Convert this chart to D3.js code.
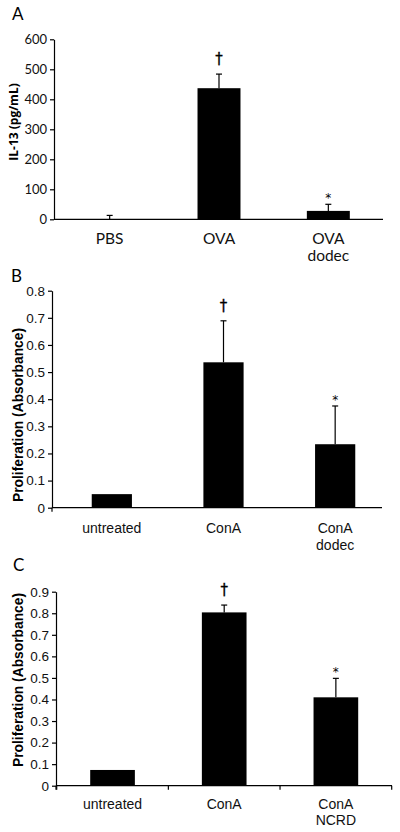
<!DOCTYPE html>
<html>
<head>
<meta charset="utf-8">
<script src="https://cdn.jsdelivr.net/npm/d3@7"></script>
<style>
  html, body { margin: 0; padding: 0; background: #fff; }
  svg { display: block; }
</style>
</head>
<body>
<svg id="chart" width="400" height="832"></svg>
<script>
// ---------- DATA ----------
const categoriesA = [["PBS"], ["OVA"], ["OVA", "dodec"]];
const valuesA = [1, 437, 28];
const errorsA = [12, 47, 22];
const marksA = ["", "†", "*"];
const ticksA = [0, 100, 200, 300, 400, 500, 600];
const yLabelA = "IL-13 (pg/mL)";

const categoriesB = [["untreated"], ["ConA"], ["ConA", "dodec"]];
const valuesB = [0.05, 0.536, 0.234];
const errorsB = [0, 0.153, 0.141];
const marksB = ["", "†", "*"];
const ticksB = [0, 0.1, 0.2, 0.3, 0.4, 0.5, 0.6, 0.7, 0.8];
const yLabelB = "Proliferation (Absorbance)";

const categoriesC = [["untreated"], ["ConA"], ["ConA", "NCRD"]];
const valuesC = [0.073, 0.804, 0.41];
const errorsC = [0, 0.034, 0.088];
const marksC = ["", "†", "*"];
const ticksC = [0, 0.1, 0.2, 0.3, 0.4, 0.5, 0.6, 0.7, 0.8, 0.9];
const yLabelC = "Proliferation (Absorbance)";

const panelLetters = ["A", "B", "C"];

// ---------- LAYOUT ----------
const ARIAL = "'Liberation Sans', Arial, Helvetica, sans-serif";
const CAL = "Lato, 'Open Sans', sans-serif";
const panels = [
  { letter: panelLetters[0], cats: categoriesA, vals: valuesA, errs: errorsA, marks: marksA, ticks: ticksA, ylabel: yLabelA,
    font: CAL, ylabFamily: "'Open Sans', Lato, sans-serif", tickFont: 13, labFont: 15.5, ylabFont: 12,
    letterPos: [12, 20], axisX: 54, axisRight: 383, yTop: 39.3, yBottom: 219.3, band: [55, 383], pad: 0.607,
    xTicks: false, below: 0, ylabPos: [14, 122], lab1: 243.5, labGap: 17, fmt: d => d },
  { letter: panelLetters[1], cats: categoriesB, vals: valuesB, errs: errorsB, marks: marksB, ticks: ticksB, ylabel: yLabelB,
    font: ARIAL, ylabFamily: ARIAL, tickFont: 13.5, labFont: 14, ylabFont: 13.8,
    letterPos: [11, 282], axisX: 52, axisRight: 382, yTop: 290.7, yBottom: 507.7, band: [56, 391], pad: 0.64,
    xTicks: false, below: 4, ylabPos: [18, 415], lab1: 533, labGap: 17, fmt: d => String(+d.toFixed(1)) },
  { letter: panelLetters[2], cats: categoriesC, vals: valuesC, errs: errorsC, marks: marksC, ticks: ticksC, ylabel: yLabelC,
    font: ARIAL, ylabFamily: ARIAL, tickFont: 13.5, labFont: 14, ylabFont: 13.8,
    letterPos: [13, 571], axisX: 56, axisRight: 392, yTop: 591.7, yBottom: 785.7, band: [56.7, 391.7], pad: 0.6,
    xTicks: true, below: 4, ylabPos: [18, 680], lab1: 809, labGap: 16, fmt: d => String(+d.toFixed(1)) }
];

const svg = d3.select("#chart");

panels.forEach(p => {
  const g = svg.append("g");
  const keys = p.cats.map(c => c.join(" "));
  const x = d3.scaleBand().domain(keys).range(p.band).paddingInner(p.pad).paddingOuter(p.pad / 2);
  const y = d3.scaleLinear().domain([0, p.ticks[p.ticks.length - 1]]).range([p.yBottom, p.yTop]);

  // panel letter
  g.append("text").attr("x", p.letterPos[0]).attr("y", p.letterPos[1])
    .attr("font-family", CAL).attr("font-size", 17).attr("fill", "#000")
    .text(p.letter);

  // bars
  g.selectAll("rect.bar").data(p.vals).join("rect").attr("class", "bar")
    .attr("x", (d, i) => x(keys[i]))
    .attr("width", x.bandwidth())
    .attr("y", d => y(d))
    .attr("height", d => y(0) - y(d))
    .attr("fill", "#000");

  // error bars (upper only)
  const capW = 6;
  p.vals.forEach((v, i) => {
    const e = p.errs[i];
    if (!e) return;
    const cx = x(keys[i]) + x.bandwidth() / 2;
    g.append("line").attr("x1", cx).attr("x2", cx).attr("y1", y(v)).attr("y2", y(v + e))
      .attr("stroke", "#000").attr("stroke-width", 1.2);
    g.append("line").attr("x1", cx - capW / 2).attr("x2", cx + capW / 2).attr("y1", y(v + e)).attr("y2", y(v + e))
      .attr("stroke", "#000").attr("stroke-width", 1.2);
  });

  // significance marks
  p.marks.forEach((m, i) => {
    if (!m) return;
    const cx = x(keys[i]) + x.bandwidth() / 2;
    const top = y(p.vals[i] + p.errs[i]);
    const isDagger = m === "†";
    g.append("text").attr("x", cx).attr("y", isDagger ? top - 10 : top - 2)
      .attr("text-anchor", "middle")
      .attr("font-family", "'DejaVu Sans', sans-serif")
      .attr("font-size", isDagger ? 15 : 12)
      .attr("fill", "#000").attr("stroke", "#000").attr("stroke-width", isDagger ? 0.3 : 0)
      .text(m);
  });

  // y axis
  const yAxis = d3.axisLeft(y).tickValues(p.ticks).tickFormat(p.fmt).tickSize(4).tickSizeOuter(0).tickPadding(3);
  const ya = g.append("g").attr("transform", `translate(${p.axisX},0)`).call(yAxis);
  ya.selectAll("path, line").attr("stroke", "#000").attr("stroke-width", 1.2);
  ya.selectAll("text").attr("font-family", p.font).attr("font-size", p.tickFont).attr("fill", "#111");
  if (p.below) {
    g.append("line").attr("x1", p.axisX).attr("x2", p.axisX).attr("y1", y(0)).attr("y2", y(0) + p.below)
      .attr("stroke", "#000").attr("stroke-width", 1.2);
  }

  // x axis line
  g.append("line").attr("x1", p.axisX).attr("x2", p.axisRight).attr("y1", y(0)).attr("y2", y(0))
    .attr("stroke", "#000").attr("stroke-width", 1.2);
  if (p.xTicks) {
    const half = x.step() * x.paddingInner() / 2;
    const bounds = keys.map(k => x(k) - half).concat([x(keys[keys.length - 1]) + x.bandwidth() + half]);
    g.selectAll("line.xt").data(bounds).join("line").attr("class", "xt")
      .attr("x1", d => d).attr("x2", d => d).attr("y1", y(0)).attr("y2", y(0) + 4)
      .attr("stroke", "#000").attr("stroke-width", 1.2);
  }

  // category labels
  p.cats.forEach((lines, i) => {
    const cx = x(keys[i]) + x.bandwidth() / 2;
    lines.forEach((t, j) => {
      g.append("text").attr("x", cx).attr("y", p.lab1 + j * p.labGap)
        .attr("text-anchor", "middle").attr("font-family", p.font).attr("font-size", p.labFont)
        .attr("fill", "#111").text(t);
    });
  });

  // y label
  g.append("text")
    .attr("transform", `translate(${p.ylabPos[0]},${p.ylabPos[1]}) rotate(-90)`)
    .attr("text-anchor", "middle").attr("dy", "0.35em")
    .attr("font-family", p.ylabFamily).attr("font-size", p.ylabFont).attr("font-weight", "bold")
    .attr("fill", "#000").text(p.ylabel);
});
</script>
</body>
</html>
